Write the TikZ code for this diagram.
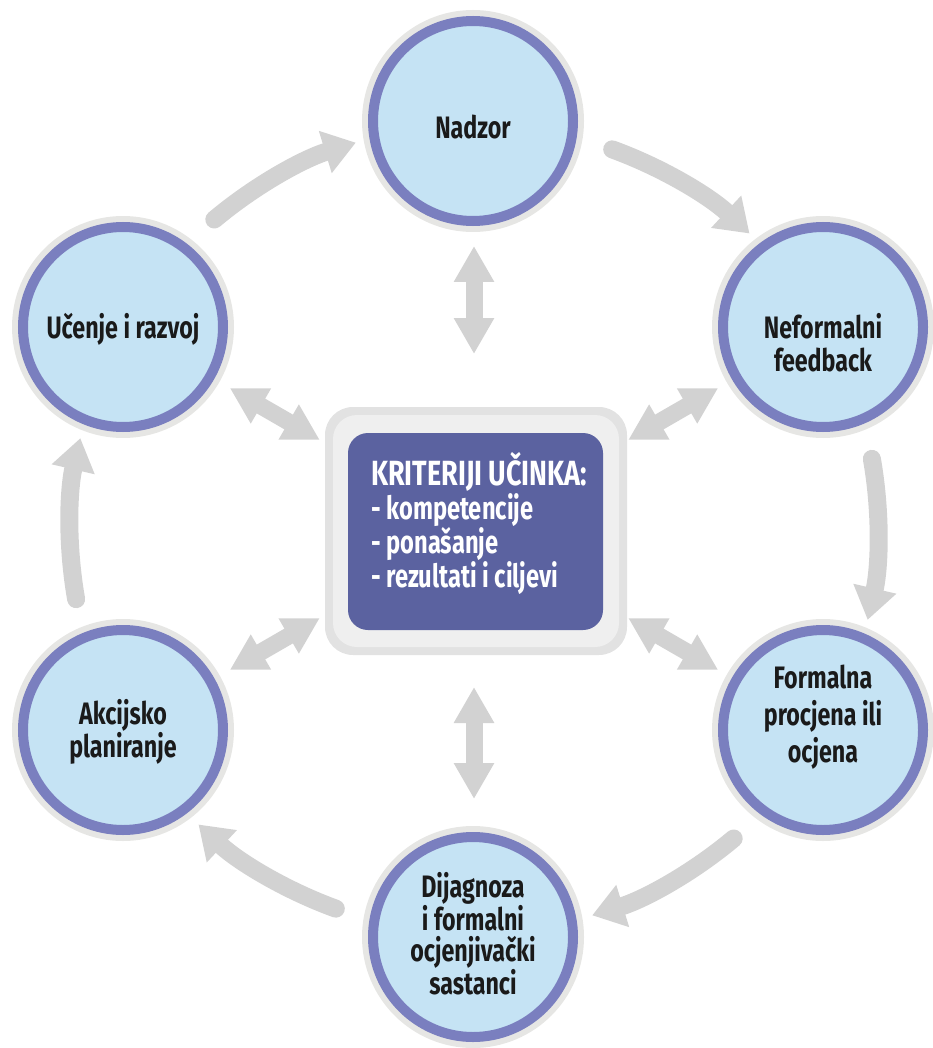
\documentclass[tikz,border=0pt]{standalone}
\usepackage{fontspec}
\newfontfamily\cfont[FakeStretch=0.75]{Fira Sans}
\newfontfamily\hfont[FakeStretch=0.77]{Fira Sans}
\newfontfamily\lfont[FakeStretch=0.74]{Fira Sans}
\usetikzlibrary{arrows.meta,calc}
\definecolor{cfill}{HTML}{C5E3F4}
\definecolor{cring}{HTML}{7A7FBF}
\definecolor{cgray}{HTML}{E6E6E4}
\definecolor{carrow}{HTML}{D2D2D2}
\definecolor{cbox}{HTML}{5B62A0}
\definecolor{cframe}{HTML}{E2E2E2}
\definecolor{cframein}{HTML}{EFEFEF}
\definecolor{ctext}{HTML}{1A1A1A}
\begin{document}
\begin{tikzpicture}[x=1pt,y=1pt,
  stage/.style={circle, minimum size=200pt, inner sep=0pt, fill=cfill, draw=cring, line width=10pt, preaction={draw=cgray, line width=22pt}},
  lbl/.style={font=\cfont\bfseries\fontsize{31}{33}\selectfont, align=center, text=ctext},
  cyc/.style={draw=carrow, line width=18pt, line cap=round, -{Triangle[width=42pt,length=32pt]}},
  dbl/.style={draw=carrow, line width=17pt, {Triangle[width=38pt,length=36pt]}-{Triangle[width=38pt,length=36pt]}}
]
\useasboundingbox (0,0) rectangle (933,-1048);
\coordinate (O) at (474,-529);

% cycle arrows
\draw[cyc] ($(O)+(130:404)$) arc[start angle=130, end angle=107, radius=404];
\draw[cyc] ($(O)+(70:404)$) arc[start angle=70, end angle=47, radius=404];
\draw[cyc] ($(O)+(10:404)$) arc[start angle=10, end angle=-13, radius=404];
\draw[cyc] ($(O)+(-50:404)$) arc[start angle=-50, end angle=-73, radius=404];
\draw[cyc] ($(O)+(-110:404)$) arc[start angle=-110, end angle=-133, radius=404];
\draw[cyc] ($(O)+(-170:404)$) arc[start angle=-170, end angle=-193, radius=404];

% stage circles
\node[stage] (nad) at (473,-121) {};
\node[stage] (nef) at (823,-327) {};
\node[stage] (for) at (823,-730) {};
\node[stage] (dij) at (473,-937) {};
\node[stage] (akc) at (123,-730) {};
\node[stage] (uce) at (123,-327) {};

\node[lbl] (tnad) at ($(nad)+(0,-6)$) {Nadzor};
\node[lbl] (tnef) at ($(nef)+(0,-16)$) {Neformalni\\feedback};
\node[lbl, font=\cfont\bfseries\fontsize{31}{37}\selectfont] (tfor) at ($(for)+(0,13)$) {Formalna\\procjena ili\\ocjena};
\node[lbl, font=\cfont\bfseries\fontsize{31}{31}\selectfont] (tdij) at ($(dij)+(0,3)$) {Dijagnoza\\i formalni\\ocjenjivački\\sastanci};
\node[lbl] (takc) at ($(akc)+(0,-2)$) {Akcijsko\\planiranje};
\node[lbl] (tuce) at ($(uce)+(0,-2)$) {Učenje i razvoj};

% center box
\node[draw=none, fill=cframe, rounded corners=28pt, minimum width=302pt, minimum height=248pt] (frame) at (476,-531) {};
\node[draw=none, fill=cframein, rounded corners=24pt, minimum width=286pt, minimum height=232pt] (framein) at (476,-531) {};
\node[draw=none, fill=cbox, rounded corners=20pt, minimum width=255pt, minimum height=197pt] (box) at (475.5,-531.5) {};
\node[anchor=base west, align=left, text=white, inner sep=0pt, font=\lfont\bfseries\fontsize{32}{34}\selectfont] (crit) at (371,-587)
  {{\hfont\fontsize{35}{34}\selectfont KRITERIJI UČINKA:}\\- kompetencije\\- ponašanje\\- rezultati i ciljevi};

% double arrows
\draw[dbl] ($(O)+(90:175)$) -- ($(O)+(90:283)$);
\draw[dbl] ($(O)+(-90:158)$) -- ($(O)+(-90:270)$);
\draw[dbl] ($(O)+(30:178)$) -- ($(O)+(30:282)$);
\draw[dbl] ($(O)+(-30:178)$) -- ($(O)+(-30:282)$);
\draw[dbl] ($(O)+(150:178)$) -- ($(O)+(150:282)$);
\draw[dbl] ($(O)+(-150:178)$) -- ($(O)+(-150:282)$);
\end{tikzpicture}
\end{document}
